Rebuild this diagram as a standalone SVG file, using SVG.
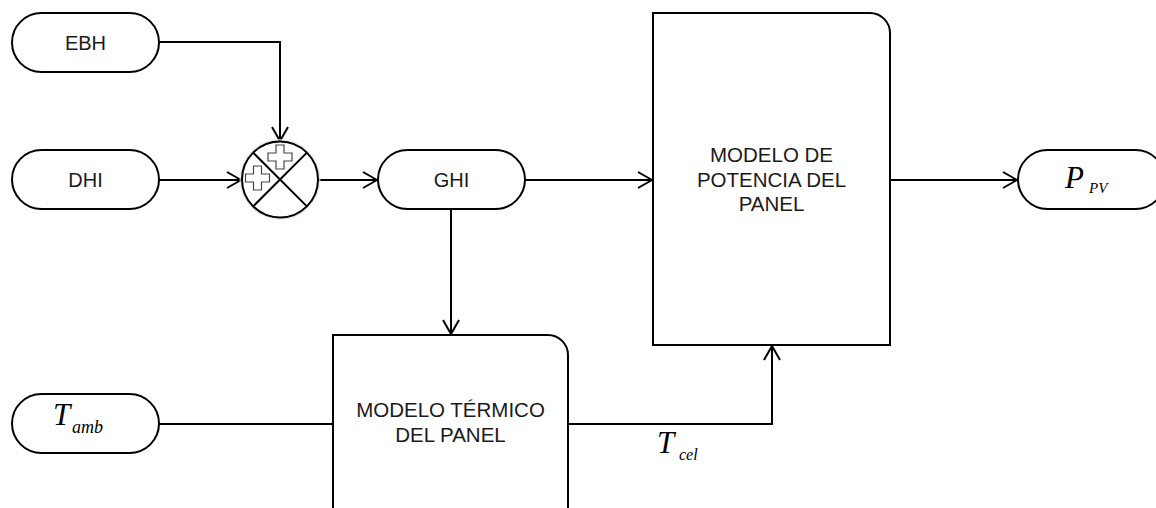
<svg xmlns="http://www.w3.org/2000/svg" width="1156" height="508" viewBox="0 0 1156 508">
<style>
.sh{fill:#fff;stroke:#000;stroke-width:2}
.ln{fill:none;stroke:#000;stroke-width:2}
.t{font-family:"Liberation Sans",Arial,sans-serif;font-size:20px;fill:#1a1a1a;text-anchor:middle}
.tb{font-family:"Liberation Sans",Arial,sans-serif;font-size:20.5px;fill:#1a1a1a;text-anchor:middle}
.m{font-family:"Liberation Serif","Times New Roman",serif;font-style:italic;fill:#000}
.plus{fill:#fff;stroke:#444;stroke-width:1.2}
</style>
<defs>
<marker id="arr" markerWidth="16" markerHeight="18" refX="15" refY="9" orient="auto" markerUnits="userSpaceOnUse">
<path d="M1,1 L15,9 L1,17" fill="none" stroke="#000" stroke-width="2"/>
</marker>
<polygon id="pl" points="-4,-12 4,-12 4,-4 12,-4 12,4 4,4 4,12 -4,12 -4,4 -12,4 -12,-4 -4,-4"/>
</defs>
<rect width="1156" height="508" fill="#fff"/>
<g id="connectors">
<path class="ln" d="M159,42 H280 V141" marker-end="url(#arr)"/>
<path class="ln" d="M159,180 H241" marker-end="url(#arr)"/>
<path class="ln" d="M318,180 H377" marker-end="url(#arr)"/>
<path class="ln" d="M525,180 H652" marker-end="url(#arr)"/>
<path class="ln" d="M890,180 H1017" marker-end="url(#arr)"/>
<path class="ln" d="M451,209 V334" marker-end="url(#arr)"/>
<path class="ln" d="M159,424 H333"/>
<path class="ln" d="M568,424 H772 V346" marker-end="url(#arr)"/>
</g>
<g id="ebh">
<rect class="sh" x="12" y="13" width="147" height="59" rx="29.5"/>
<text class="t" x="85.5" y="50">EBH</text>
</g>
<g id="dhi">
<rect class="sh" x="12" y="150" width="147" height="59" rx="29.5"/>
<text class="t" x="85.5" y="187">DHI</text>
</g>
<g id="sum">
<circle cx="280" cy="179.5" r="38" fill="#fff" stroke="#dde6ee" stroke-width="5" opacity="0.7"/>
<circle class="sh" cx="280" cy="179.5" r="38"/>
<line class="ln" x1="253.1" y1="152.6" x2="306.9" y2="206.4"/>
<line class="ln" x1="306.9" y1="152.6" x2="253.1" y2="206.4"/>
<use href="#pl" class="plus" x="280" y="157"/>
<use href="#pl" class="plus" x="257.5" y="178"/>
</g>
<g id="ghi">
<rect class="sh" x="378" y="150" width="147" height="59" rx="29.5"/>
<text class="t" x="451.5" y="187">GHI</text>
</g>
<g id="potencia">
<path class="sh" d="M653,13 H870 A20,20 0 0 1 890,33 V345 H653 Z"/>
<text class="tb" x="771.5" y="162">MODELO DE</text>
<text class="tb" x="771.5" y="187">POTENCIA DEL</text>
<text class="tb" x="771.5" y="211">PANEL</text>
</g>
<g id="ppv">
<rect class="sh" x="1018" y="150" width="147" height="59" rx="29.5"/>
<text class="m" x="1065" y="188" font-size="31">P</text>
<text class="m" x="1089" y="193" font-size="15">PV</text>
</g>
<g id="tamb">
<rect class="sh" x="12" y="394" width="147" height="59" rx="29.5"/>
<text class="m" x="53" y="425" font-size="31">T</text>
<text class="m" x="72" y="433" font-size="18">amb</text>
</g>
<g id="termico">
<path class="sh" d="M333,520 V335 H548 A20,20 0 0 1 568,355 V520"/>
<text class="tb" x="450.5" y="417">MODELO TÉRMICO</text>
<text class="tb" x="450.5" y="442">DEL PANEL</text>
</g>
<g id="tcel">
<text class="m" x="657" y="453" font-size="31">T</text>
<text class="m" x="679" y="460" font-size="16">cel</text>
</g>
</svg>
